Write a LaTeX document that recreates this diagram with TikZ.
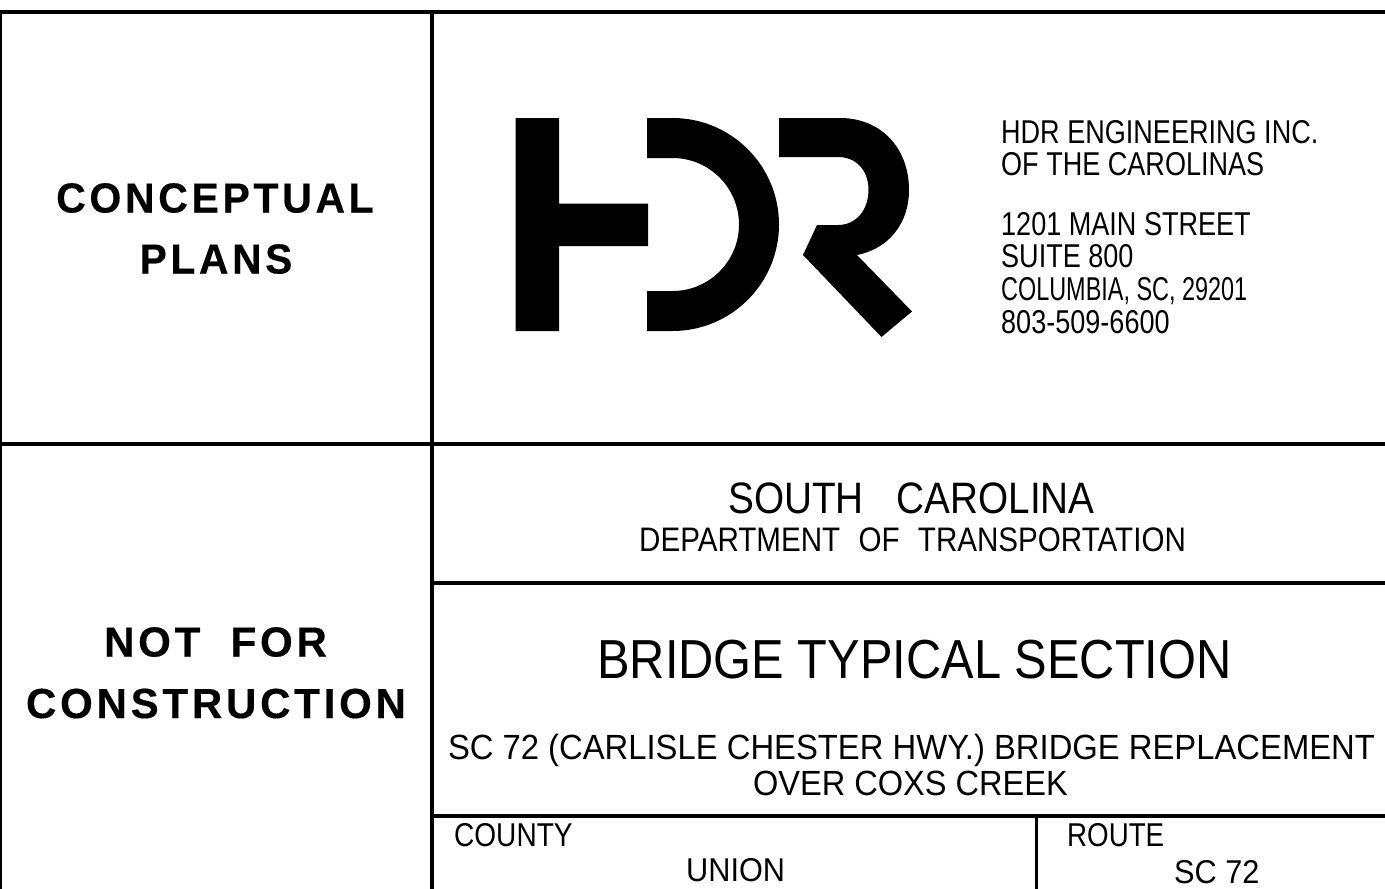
\documentclass[tikz,border=0pt]{standalone}
\usepackage{fontspec}
\setmainfont{Liberation Sans}
\newfontfamily\boldwide[LetterSpace=9,FakeBold=0.4]{Liberation Sans Bold}
\tikzset{
	x=1pt, y=-1pt,
	rule/.style={draw=black, line width=4.5pt},
	thinrule/.style={draw=black, line width=3pt},
	logo/.style={fill=black, draw=none},
	squeeze/.style={xscale=#1, transform shape},
	txt/.style={inner sep=0pt, anchor=base west, text=black},
	txtc/.style={inner sep=0pt, anchor=base, text=black},
	stamp/.style={txtc, font=\boldwide\fontsize{42}{42}\selectfont},
	firm/.style={txt, squeeze=#1, font=\fontsize{33}{33}\selectfont}
}
\begin{document}
\begin{tikzpicture}
	\useasboundingbox (0,0) rectangle (1385,889);
	\draw[rule] (0,12) -- (1385,12);
	\draw[rule] (0,444) -- (1385,444);
	\draw[rule] (432,12) -- (432,889);
	\draw[rule] (432,583) -- (1385,583);
	\draw[rule] (432,816) -- (1385,816);
	\draw[thinrule] (1036,816) -- (1036,889);
	\draw[line width=2pt] (1,12) -- (1,889);

	\fill[logo] (515.5,118) -- (559,118) -- (559,203.5) -- (648,203.5) -- (648,246) -- (559,246) -- (559,331) -- (515.5,331) -- cycle;
	\fill[logo] (647,118) -- (672.5,118) arc (90:-90:106.5pt) -- (647,331) -- (647,291) -- (672.5,291) arc (-90:90:66.5pt) -- (647,158) -- cycle;
	\fill[logo] (779,118) -- (840,118) .. controls (881,118) and (909,148) .. (909,190) .. controls (909,224) and (888,249) .. (857,255) -- (912,311.5) -- (881.5,337) -- (803,255) -- (817,225) -- (838,225) .. controls (856,225) and (868.5,210) .. (868.5,190) .. controls (868.5,170) and (856,157) .. (838,157) -- (779,157) -- cycle;

	\node[stamp, squeeze=0.975] (conceptual) at (215,212.5) {CONCEPTUAL};
	\node[stamp, squeeze=0.97] (plans) at (216,273.5) {PLANS};
	\node[stamp] (notfor) at (215.5,656.5) {NOT\hspace{0.72em}FOR};
	\node[stamp] (construction) at (216,718) {CONSTRUCTION};

	\node[firm=0.82] (hdr) at (1001,143) {HDR ENGINEERING INC.};
	\node[firm=0.82] (carolinas) at (1001,175) {OF THE CAROLINAS};
	\node[firm=0.82] (street) at (1001,235) {1201 MAIN STREET};
	\node[firm=0.82] (suite) at (1001,267) {SUITE 800};
	\node[firm=0.71] (columbia) at (1001,300) {COLUMBIA, SC, 29201};
	\node[firm=0.82] (phone) at (1001,333) {803-509-6600};

	\node[txtc, squeeze=0.88, font=\fontsize{44}{44}\selectfont] (state) at (911.5,513) {SOUTH\hspace{0.85em}CAROLINA};
	\node[txtc, squeeze=0.87, font=\fontsize{34}{34}\selectfont] (dept) at (912.5,551) {DEPARTMENT\hspace{0.62em}OF\hspace{0.62em}TRANSPORTATION};
	\node[txtc, squeeze=0.887, font=\fontsize{55}{55}\selectfont] (title) at (914.5,678) {BRIDGE TYPICAL SECTION};
	\node[txtc, squeeze=0.937, font=\fontsize{35}{35}\selectfont] (project) at (911.5,759.5) {SC 72 (CARLISLE CHESTER HWY.) BRIDGE REPLACEMENT};
	\node[txtc, squeeze=0.93, font=\fontsize{35}{35}\selectfont] (creek) at (910.5,795) {OVER COXS CREEK};

	\node[firm=0.85] (county) at (454,846) {COUNTY};
	\node[firm=0.84] (route) at (1067,846) {ROUTE};
	\node[firm=0.93] (union) at (686,881) {UNION};
	\node[firm=0.93] (sc) at (1174,883) {SC 72};
\end{tikzpicture}
\end{document}
